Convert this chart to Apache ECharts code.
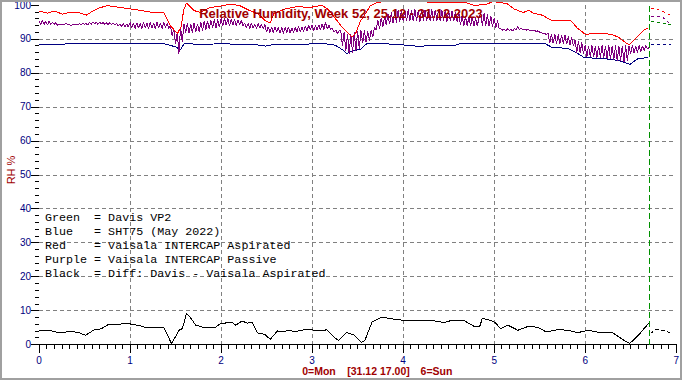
<!DOCTYPE html>
<html><head><meta charset="utf-8">
<script src="https://cdn.jsdelivr.net/npm/echarts@6/dist/echarts.min.js"></script>
<style>html,body{margin:0;padding:0;background:#fff}#c{width:682px;height:380px}
#c svg path{shape-rendering:crispEdges}</style>
</head><body><div id="c"></div>
<script>
const TITLE = 'Relative Humidity, Week 52, 25.12 - 31.12.2023';
const X_TICKS = [0, 1, 2, 3, 4, 5, 6, 7];
const Y_TICKS = [0, 10, 20, 30, 40, 50, 60, 70, 80, 90, 100];
const LEGEND_LINES = [
  'Green  = Davis VP2',
  'Blue   = SHT75 (May 2022)',
  'Red    = Vaisala INTERCAP Aspirated',
  'Purple = Vaisala INTERCAP Passive',
  'Black  = Diff: Davis - Vaisala Aspirated'
];
const NOW_DAY = 6.695; // 31.12 17.00

// Red: Vaisala INTERCAP Aspirated
const redDays = [0,0.09,0.17,0.26,0.35,0.44,0.52,0.60,0.67,0.75,0.86,0.99,1.12,1.23,1.37,1.44,1.52,1.56,1.59,1.62,1.70,1.77,1.87,1.98,2.09,2.20,2.31,2.40,2.49,2.54,2.58,2.71,2.85,2.96,3.11,3.18,3.25,3.32,3.40,3.44,3.48,3.53,3.58,3.64,3.70,3.78,4.20,4.42,4.70,4.78,4.90,4.99,5.04,5.14,5.22,5.32,5.38,5.44,5.53,5.64,5.71,5.84,5.91,6.00,6.15,6.29,6.37,6.46,6.49,6.57,6.64,6.695];
const redRH = [98.2,97.6,98.2,97.3,97.9,97.7,97.0,98.4,99.2,99.8,99.4,98.9,98.4,97.9,97.9,94.0,91.6,93.5,98.5,100.6,98.4,97.8,99.2,99.6,100.2,99.9,98.4,97.5,95.3,94.7,97.5,98.9,99.6,99.2,99.9,98.6,96.2,93.8,91.6,90.6,91.7,95.2,97.2,99.8,100.6,101.0,101.0,100.6,100.6,99.9,100.1,101.0,100.8,100.4,98.8,97.8,98.4,97.5,97.0,95.3,95.3,95.5,93.3,91.4,91.6,91.4,90.4,88.6,88.4,90.6,92.5,93.3];

// Blue: SHT75
const blueDays = [0,0.53,1.37,1.43,1.51,1.55,1.60,1.66,1.77,1.98,2.38,2.49,2.56,3.14,3.25,3.33,3.38,3.44,3.53,3.60,3.68,3.97,4.14,4.55,4.63,5.10,5.56,5.63,5.81,5.92,5.99,6.21,6.36,6.49,6.58,6.695];
const blueRH = [88.4,88.6,88.6,88.2,87.6,86.7,88.8,88.6,88.3,88.6,88.3,87.9,88.3,88.6,88.2,86.9,85.7,86.5,86.9,88.6,88.8,88.3,87.9,88.0,88.6,88.6,88.6,87.6,87.2,85.7,84.5,84.2,83.7,82.5,84.2,84.5];

// Purple: Vaisala INTERCAP Passive, sampled every 1/54 day
const PURPLE_STEP_DAYS = 1 / 54;
const purpleRH = [
95.3,94.2,95.4,94.3,95.2,94.1,95.3,94.2,95.0,94.3,94.8,
94.0,94.3,94.1,94.4,94.2,94.6,94.3,94.2,94.0,94.2,94.1,94.4,94.3,94.5,94.2,94.6,94.3,94.5,94.1,
94.9,94.3,95.0,94.4,94.9,94.3,95.0,94.4,94.9,94.3,94.8,94.2,94.8,94.3,94.7,94.1,
94.5,93.8,94.4,93.7,94.5,93.6,94.4,93.5,
94.8,93.2,94.7,93.1,94.8,93.2,94.6,93.1,95.0,93.2,94.7,93.1,94.8,93.3,94.6,93.1,94.9,93.2,94.7,93.1,95.1,93.3,94.6,93.0,
94.0,91.0,93.0,88.5,92.0,85.7,93.5,89.0,
94.5,91.8,94.6,91.7,94.4,91.9,94.7,92.0,94.5,92.1,
95.0,92.5,95.2,92.8,95.4,93.0,95.5,93.2,95.7,93.3,95.8,93.5,
96.0,93.8,96.2,94.0,96.0,93.9,95.9,94.0,95.8,94.0,95.6,94.1,95.5,94.0,
94.6,93.2,94.5,93.1,94.6,93.2,94.4,93.1,94.5,93.2,94.3,93.0,94.2,
92.0,93.6,91.9,93.5,91.8,93.6,92.0,93.4,91.7,93.5,91.6,93.4,91.8,93.6,91.7,93.3,91.9,93.5,92.0,93.7,92.1,93.6,92.2,93.8,
92.5,94.0,92.6,94.1,92.5,94.0,92.7,94.2,92.6,94.5,92.8,95.0,92.9,94.0,
92.8,93.2,92.0,92.7,91.6,92.3,
92.5,88.0,92.0,86.5,91.5,85.7,91.5,86.0,92.0,86.5,92.3,87.0,92.5,
88.7,92.6,89.0,92.4,89.5,92.6,90.5,93.5,
92.6,95.5,93.0,96.2,93.5,96.8,94.0,97.3,94.3,97.8,94.6,98.2,94.8,98.4,95.0,98.5,
95.3,98.6,95.2,98.7,95.4,98.5,95.2,98.8,95.3,98.6,95.1,98.7,95.4,98.5,95.2,98.6,95.3,98.7,95.2,98.5,95.4,98.6,95.2,98.4,95.3,98.5,95.1,98.3,95.4,98.2,95.2,98.0,95.1,97.8,
94.0,96.8,93.9,96.6,93.8,96.5,93.8,96.4,93.7,96.3,93.8,96.2,
97.8,93.9,97.5,93.8,97.2,93.7,96.8,93.5,96.2,93.3,95.5,93.0,
93.0,92.6,92.8,92.5,93.0,92.6,92.7,92.4,93.0,92.6,93.6,92.8,93.2,92.7,92.9,92.6,92.8,92.5,92.6,92.4,92.5,92.2,92.4,92.0,91.8,91.6,91.5,91.4,
91.6,88.8,91.5,88.7,91.4,88.6,91.3,88.5,91.2,88.6,91.1,88.4,90.8,88.2,90.5,88.0,
89.6,86.0,89.4,85.8,89.0,85.6,
88.1,84.8,88.0,84.7,88.1,84.6,87.9,84.5,88.0,84.4,88.1,84.3,88.0,84.2,88.2,84.0,88.0,83.8,88.1,83.6,87.9,83.4,88.0,83.2,88.1,83.5,88.0,
85.6,88.1,85.8,88.0,85.9,88.2,86.2,88.0,86.5,88.1,87.0,87.6
];

// Black: Diff Davis - Vaisala Aspirated
const blackDays = [0.0,0.05,0.115,0.17,0.24,0.35,0.44,0.51,0.61,0.68,0.77,0.85,0.97,1.10,1.19,1.32,1.37,1.455,1.54,1.575,1.62,1.67,1.72,1.83,1.94,1.995,2.12,2.16,2.23,2.29,2.34,2.40,2.48,2.54,2.62,2.70,2.74,2.81,2.88,2.98,3.04,3.16,3.24,3.29,3.38,3.46,3.54,3.58,3.66,3.77,3.84,3.98,4.30,4.39,4.45,4.55,4.66,4.79,4.84,4.87,4.95,5.01,5.07,5.15,5.26,5.37,5.48,5.57,5.70,5.81,5.92,6.03,6.17,6.30,6.41,6.49,6.60,6.695];
const blackRH = [4.2,4.0,4.2,3.8,3.4,3.9,3.5,2.7,4.4,4.6,6.0,5.9,6.2,5.6,4.9,4.9,5.1,0.3,4.2,4.7,9.1,7.7,5.7,4.9,5.1,6.2,6.5,5.7,6.9,6.3,6.5,3.4,3.0,1.5,4.0,3.8,4.2,3.8,4.2,4.5,4.0,4.3,2.2,1.2,3.5,2.8,0.6,1.2,6.7,8.1,7.7,7.2,7.2,6.7,6.5,7.2,7.2,5.2,5.2,7.7,7.2,6.5,4.7,5.7,4.2,5.3,5.1,3.7,4.4,4.2,3.5,4.2,3.5,3.5,1.5,0.3,3.2,6.2];

// Dashed extension after the current time
const extDays = [6.72, 6.78, 6.86, 6.94];
const redExt = [98.9, 98.9, 98.0, 97.0];
const purpleExt = [96.7, 96.8, 96.2, 94.3];
const greenExt = [95.2, 95.0, 94.6, 94.2];
const blueExt = [88.3, 88.3, 88.4, 88.4];
const blackExt = [3.3, 4.4, 4.1, 3.4];

const zip = (xs, ys) => xs.map((x, i) => [x, ys[i]]);
const purpleData = purpleRH.map((v, i) => [i * PURPLE_STEP_DAYS, v]);

const FONT = '"Liberation Sans", Arial, sans-serif';
const DARKRED = '#a00000';
const NAVY = '#000080';

function line(name, data, color, dashed, z) {
  return {
    name, type: 'line', data, symbol: 'none', clip: false, z: z || 2,
    lineStyle: { color, width: 1, type: dashed ? [3, 3] : 'solid' },
    itemStyle: { color },
    silent: true
  };
}

const chart = echarts.init(document.getElementById('c'), null, { renderer: 'svg' });
const series = [
  line('Blue', zip(blueDays, blueRH), '#000080', false, 2),
  line('Purple', purpleData, '#800080', false, 3),
  line('Red', zip(redDays, redRH), '#ff0000', false, 4),
  line('Black', zip(blackDays, blackRH), '#000000', false, 4),
  line('RedExt', zip(extDays, redExt), '#ff0000', true, 4),
  line('PurpleExt', zip(extDays, purpleExt), '#800080', true, 4),
  line('BlueExt', zip(extDays, blueExt), '#000080', true, 4),
  line('BlackExt', zip(extDays, blackExt), '#000000', true, 4),
  Object.assign(line('GreenExt', zip(extDays, greenExt), '#008000', true, 4), {
    markLine: {
      silent: true, symbol: 'none', label: { show: false },
      lineStyle: { color: '#009000', width: 1, type: [6, 3], opacity: 1 },
      data: [{ xAxis: NOW_DAY }]
    }
  })
];

const legendGraphics = LEGEND_LINES.map((t, i) => ({
  type: 'text', z: 100,
  style: { text: t, x: 45, y: 217.5 + i * 14, fill: '#000', font: '11.7px "Liberation Mono", "Courier New", monospace',
    textAlign: 'left', align: 'left', textVerticalAlign: 'middle', verticalAlign: 'middle' }
}));

const gridStyle = { color: '#808080', type: [4, 3], width: 1 };
const bottomFont = 'bold 10.5px ' + FONT;

chart.setOption({
  animation: false,
  backgroundColor: '#ffffff',
  grid: { left: 39, right: 4, top: 4.5, bottom: 35.5, containLabel: false },
  xAxis: {
    type: 'value', min: X_TICKS[0], max: X_TICKS[X_TICKS.length - 1], interval: 1,
    axisLine: { show: true, onZero: false, lineStyle: { color: '#000', width: 1 } },
    axisTick: { show: true, length: 8, lineStyle: { color: '#000' } },
    minorTick: { show: true, splitNumber: 12, length: 4, lineStyle: { color: '#000' } },
    axisLabel: { color: NAVY, fontSize: 10, lineHeight: 10, fontFamily: FONT, margin: 11 },
    splitLine: { show: true, showMinLine: false, showMaxLine: false, lineStyle: gridStyle }
  },
  yAxis: {
    type: 'value', min: Y_TICKS[0], max: Y_TICKS[Y_TICKS.length - 1], interval: 10,
    axisLine: { show: false },
    axisTick: { show: true, length: 8, lineStyle: { color: '#000' } },
    minorTick: { show: true, splitNumber: 5, length: 4, lineStyle: { color: '#000' } },
    axisLabel: { color: NAVY, fontSize: 10, fontFamily: FONT, margin: 8 },
    splitLine: { show: true, showMinLine: false, showMaxLine: false, lineStyle: gridStyle }
  },
  series,
  graphic: [
    { type: 'rect', z: 100, silent: true, shape: { x: 1, y: 1, width: 680, height: 378 },
      style: { fill: null, stroke: '#a0a0a0', lineWidth: 2 } },
    { type: 'text', z: 100, style: { text: TITLE, x: 341, y: 13.5, fill: DARKRED, font: 'bold 13px ' + FONT,
      textAlign: 'center', align: 'center', textVerticalAlign: 'middle', verticalAlign: 'middle' } },
    { type: 'text', z: 100, rotation: Math.PI / 2, x: 11, y: 170, style: { text: 'RH %', x: 0, y: 0, fill: DARKRED, font: '11px ' + FONT,
      textAlign: 'center', align: 'center', textVerticalAlign: 'middle', verticalAlign: 'middle' } },
    { type: 'text', z: 100, style: { text: '0=Mon', x: 319, y: 371, fill: DARKRED, font: bottomFont,
      textAlign: 'center', align: 'center', textVerticalAlign: 'middle', verticalAlign: 'middle' } },
    { type: 'text', z: 100, style: { text: '[31.12 17.00]', x: 378.5, y: 371, fill: DARKRED, font: bottomFont,
      textAlign: 'center', align: 'center', textVerticalAlign: 'middle', verticalAlign: 'middle' } },
    { type: 'text', z: 100, style: { text: '6=Sun', x: 436.5, y: 371, fill: DARKRED, font: bottomFont,
      textAlign: 'center', align: 'center', textVerticalAlign: 'middle', verticalAlign: 'middle' } }
  ].concat(legendGraphics)
});
</script>
</body></html>
